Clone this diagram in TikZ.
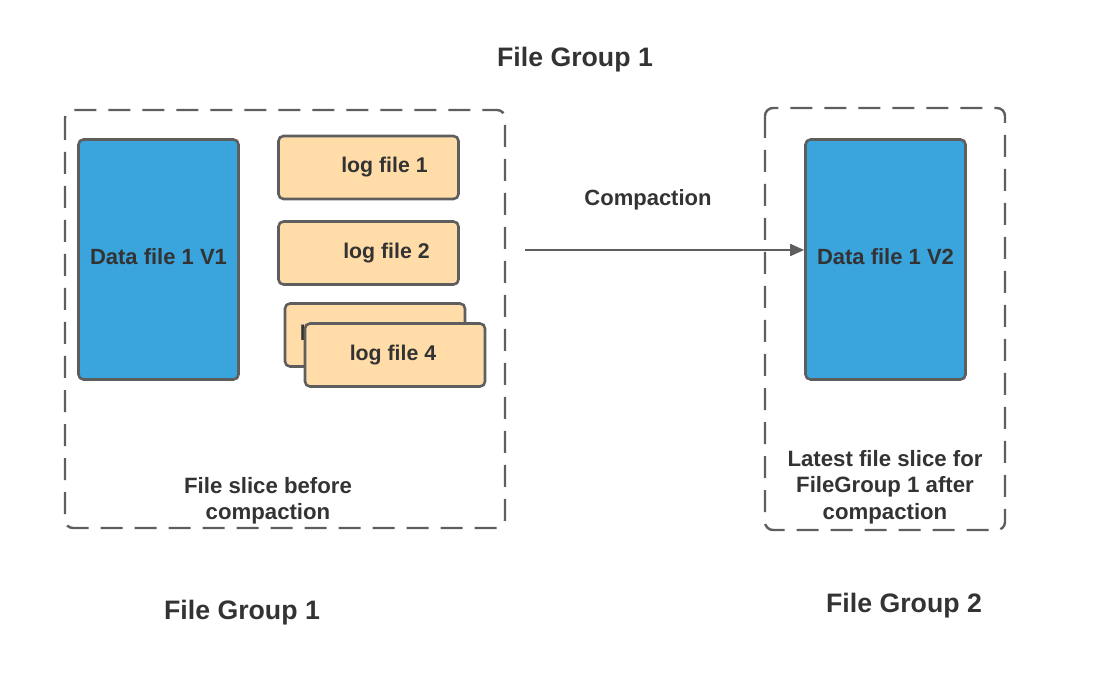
\documentclass[tikz,border=0pt]{standalone}
\usepackage{fontspec}
\setmainfont{Liberation Sans}
\usepackage{xcolor}
\usetikzlibrary{arrows.meta,positioning}
\definecolor{datablue}{HTML}{3AA4DD}
\definecolor{logpeach}{HTML}{FFDCA8}
\definecolor{edgegray}{HTML}{5E5E5E}
\definecolor{textgray}{HTML}{333333}
\tikzset{
  frame/.style={draw=edgegray, line width=2.4pt, rounded corners=8pt, dash pattern=on 22pt off 12pt},
  databox/.style={draw=edgegray, line width=2.6pt, rounded corners=5pt, fill=datablue, minimum width=160pt, minimum height=240pt},
  datatext/.style={font=\bfseries\fontsize{22}{26}\selectfont, text=textgray, inner sep=0pt},
  logbox/.style={draw=edgegray, line width=2.6pt, rounded corners=5pt, fill=logpeach, minimum width=180pt, minimum height=63pt},
  logtext/.style={font=\bfseries\fontsize{21.3}{25}\selectfont, text=textgray, inner sep=0pt},
  title/.style={font=\bfseries\fontsize{26.7}{30}\selectfont, text=textgray},
  caption/.style={font=\bfseries\fontsize{22.2}{26.5}\selectfont, text=textgray, align=center},
  line/.style={-{Triangle[length=14pt, width=12pt]}, draw=edgegray, line width=1.6pt}
}
\begin{document}
\begin{tikzpicture}[x=1pt, y=-1pt]
    \useasboundingbox (0,0) rectangle (1100,700);
    \node[title] (top) at (575,60) {File Group 1};
    \draw[frame] (65,110) rectangle (505,528);
    \draw[frame] (765,108) rectangle (1005,530);
    \node[databox, label={[datatext, yshift=3pt]center:Data file 1 V1}] (dv1) at (158.5,259.5) {};
    \node[databox, label={[datatext, yshift=3pt]center:Data file 1 V2}] (dv2) at (885.5,259.5) {};
    \node[logbox, label={[logtext, xshift=16pt]center:log file 1}] (log1) at (368.5,167.5) {};
    \node[logbox, label={[logtext, xshift=18pt]center:log file 2}] (log2) at (368.5,253) {};
    % log file 3 sits behind log file 4
    \node[logbox, label={[logtext, xshift=-32pt]center:log file 3}] (log3) at (375,335) {};
    \node[logbox, label={[logtext, xshift=-2pt]center:log file 4}] (log4) at (395,355) {};
    \coordinate (src) at (525,250);
    \node[title, font=\bfseries\fontsize{22}{26}\selectfont] (comp) at (648,200) {Compaction};
    \draw[line] (src) -- (dv2.west |- src);
    \node[caption] (before) at (268,501) {File slice before\\compaction};
    \node[caption] (after) at (885,487) {Latest file slice for\\FileGroup 1 after\\compaction};
    \node[title] (fg1) at (242,613) {File Group 1};
    \node[title] (fg2) at (904,606) {File Group 2};
  \end{tikzpicture}
\end{document}
